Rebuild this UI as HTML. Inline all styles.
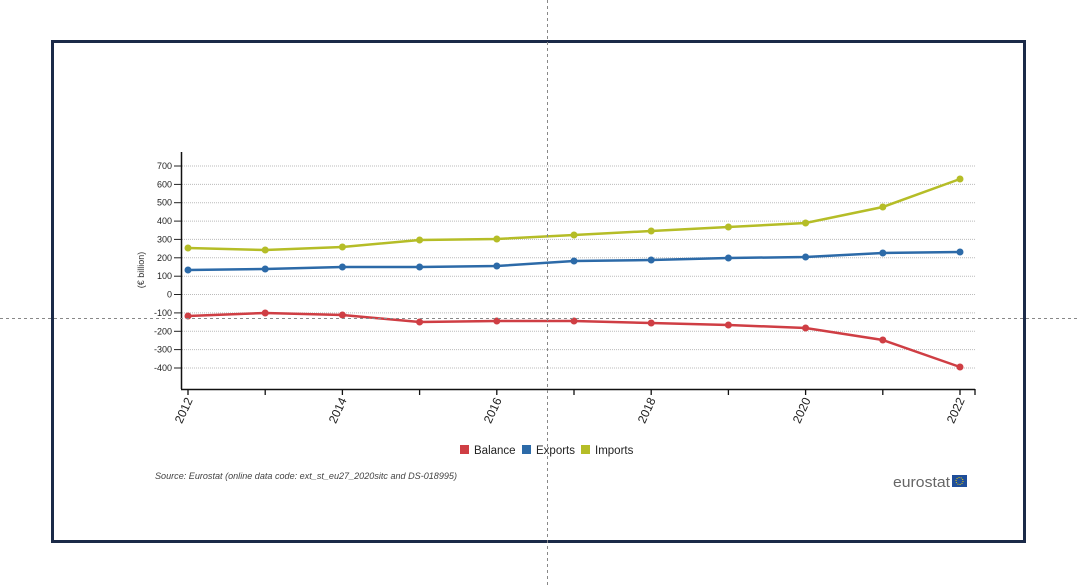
<!DOCTYPE html>
<html><head><meta charset="utf-8"><style>
body{margin:0;width:1077px;height:586px;background:#fff;overflow:hidden;font-family:"Liberation Sans",sans-serif}
</style></head><body>
<svg width="1077" height="586" style="position:absolute;left:0;top:0" font-family="Liberation Sans, sans-serif">
<rect x="52.5" y="41.5" width="972" height="500" fill="#fff" stroke="#1b2a48" stroke-width="3"/>
<g stroke="#bbb" stroke-dasharray="1,1" stroke-width="1">
<line x1="182" x2="975" y1="166" y2="166"/><line x1="182" x2="975" y1="184.4" y2="184.4"/>
<line x1="182" x2="975" y1="202.7" y2="202.7"/><line x1="182" x2="975" y1="221.1" y2="221.1"/>
<line x1="182" x2="975" y1="239.4" y2="239.4"/><line x1="182" x2="975" y1="257.8" y2="257.8"/>
<line x1="182" x2="975" y1="276.2" y2="276.2"/><line x1="182" x2="975" y1="294.5" y2="294.5"/>
<line x1="182" x2="975" y1="312.9" y2="312.9"/><line x1="182" x2="975" y1="331.3" y2="331.3"/>
<line x1="182" x2="975" y1="349.6" y2="349.6"/><line x1="182" x2="975" y1="368" y2="368"/>
</g>
<g font-size="9" fill="#222" text-anchor="end">
<text x="172" y="169">700</text><text x="172" y="187.4">600</text><text x="172" y="205.7">500</text>
<text x="172" y="224.1">400</text><text x="172" y="242.4">300</text><text x="172" y="260.8">200</text>
<text x="172" y="279.2">100</text><text x="172" y="297.5">0</text><text x="172" y="315.9">-100</text>
<text x="172" y="334.3">-200</text><text x="172" y="352.6">-300</text><text x="172" y="371">-400</text>
</g>
<g stroke="#222" stroke-width="1">
<line x1="174" x2="181" y1="166" y2="166"/><line x1="174" x2="181" y1="184.4" y2="184.4"/><line x1="174" x2="181" y1="202.7" y2="202.7"/><line x1="174" x2="181" y1="221.1" y2="221.1"/><line x1="174" x2="181" y1="239.4" y2="239.4"/><line x1="174" x2="181" y1="257.8" y2="257.8"/><line x1="174" x2="181" y1="276.2" y2="276.2"/><line x1="174" x2="181" y1="294.5" y2="294.5"/><line x1="174" x2="181" y1="312.9" y2="312.9"/><line x1="174" x2="181" y1="331.3" y2="331.3"/><line x1="174" x2="181" y1="349.6" y2="349.6"/><line x1="174" x2="181" y1="368" y2="368"/>
</g>
<text transform="translate(144,270) rotate(-90)" font-size="9" fill="#333" text-anchor="middle">(€ billion)</text>
<line x1="181.5" y1="152" x2="181.5" y2="389" stroke="#111" stroke-width="1.5"/>
<line x1="181" y1="389.5" x2="975" y2="389.5" stroke="#111" stroke-width="1.5"/>
<g stroke="#111" stroke-width="1.3">
<line x1="188" x2="188" y1="389" y2="395"/><line x1="265.2" x2="265.2" y1="389" y2="395"/><line x1="342.4" x2="342.4" y1="389" y2="395"/><line x1="419.6" x2="419.6" y1="389" y2="395"/><line x1="496.8" x2="496.8" y1="389" y2="395"/><line x1="574" x2="574" y1="389" y2="395"/><line x1="651.2" x2="651.2" y1="389" y2="395"/><line x1="728.4" x2="728.4" y1="389" y2="395"/><line x1="805.6" x2="805.6" y1="389" y2="395"/><line x1="882.8" x2="882.8" y1="389" y2="395"/><line x1="960" x2="960" y1="389" y2="395"/><line x1="975" x2="975" y1="389" y2="395"/>
</g>
<g font-size="12" fill="#222" text-anchor="end">
<text transform="translate(193,400) rotate(-65)">2012</text>
<text transform="translate(347,400) rotate(-65)">2014</text>
<text transform="translate(502,400) rotate(-65)">2016</text>
<text transform="translate(656,400) rotate(-65)">2018</text>
<text transform="translate(811,400) rotate(-65)">2020</text>
<text transform="translate(965,400) rotate(-65)">2022</text>
</g>
<g fill="none" stroke-width="2.5">
<polyline stroke="#b5bd27" points="188,248 265.2,250 342.4,247 419.6,240 496.8,239 574,235 651.2,231 728.4,227 805.6,223 882.8,207 960,179"/>
<polyline stroke="#2c6aa8" points="188,270 265.2,269 342.4,267 419.6,267 496.8,266 574,261 651.2,260 728.4,258 805.6,257 882.8,253 960,252"/>
<polyline stroke="#cf3e44" points="188,316 265.2,313 342.4,315 419.6,322 496.8,321 574,321 651.2,323 728.4,325 805.6,328 882.8,340 960,367"/>
</g>
<g fill="#b5bd27"><circle cx="188" cy="248" r="3.5"/><circle cx="265.2" cy="250" r="3.5"/><circle cx="342.4" cy="247" r="3.5"/><circle cx="419.6" cy="240" r="3.5"/><circle cx="496.8" cy="239" r="3.5"/><circle cx="574" cy="235" r="3.5"/><circle cx="651.2" cy="231" r="3.5"/><circle cx="728.4" cy="227" r="3.5"/><circle cx="805.6" cy="223" r="3.5"/><circle cx="882.8" cy="207" r="3.5"/><circle cx="960" cy="179" r="3.5"/></g>
<g fill="#2c6aa8"><circle cx="188" cy="270" r="3.5"/><circle cx="265.2" cy="269" r="3.5"/><circle cx="342.4" cy="267" r="3.5"/><circle cx="419.6" cy="267" r="3.5"/><circle cx="496.8" cy="266" r="3.5"/><circle cx="574" cy="261" r="3.5"/><circle cx="651.2" cy="260" r="3.5"/><circle cx="728.4" cy="258" r="3.5"/><circle cx="805.6" cy="257" r="3.5"/><circle cx="882.8" cy="253" r="3.5"/><circle cx="960" cy="252" r="3.5"/></g>
<g fill="#cf3e44"><circle cx="188" cy="316" r="3.5"/><circle cx="265.2" cy="313" r="3.5"/><circle cx="342.4" cy="315" r="3.5"/><circle cx="419.6" cy="322" r="3.5"/><circle cx="496.8" cy="321" r="3.5"/><circle cx="574" cy="321" r="3.5"/><circle cx="651.2" cy="323" r="3.5"/><circle cx="728.4" cy="325" r="3.5"/><circle cx="805.6" cy="328" r="3.5"/><circle cx="882.8" cy="340" r="3.5"/><circle cx="960" cy="367" r="3.5"/></g>
<g font-size="11.5" fill="#222">
<rect x="460" y="445" width="9" height="9" fill="#cf3e44"/><text x="474" y="454">Balance</text>
<rect x="522" y="445" width="9" height="9" fill="#2c6aa8"/><text x="536" y="454">Exports</text>
<rect x="581" y="445" width="9" height="9" fill="#b5bd27"/><text x="595" y="454">Imports</text>
</g>
<text x="155" y="479" font-size="9.5" font-style="italic" fill="#444" textLength="302" lengthAdjust="spacingAndGlyphs">Source: Eurostat (online data code: ext_st_eu27_2020sitc and DS-018995)</text>
<text x="893" y="487" font-size="15" fill="#666" textLength="57" lengthAdjust="spacingAndGlyphs">eurostat</text>
<rect x="952" y="475" width="15" height="12" fill="#1f4e9a"/>
<circle cx="959.5" cy="481" r="3.5" fill="none" stroke="#f3d400" stroke-width="1" stroke-dasharray="1,1.2"/>
<line x1="547.5" y1="0" x2="547.5" y2="586" stroke="#888" stroke-dasharray="3,3" stroke-width="1"/>
<line x1="0" y1="318.5" x2="1077" y2="318.5" stroke="#888" stroke-dasharray="3,3" stroke-width="1"/>
</svg>
</body></html>
